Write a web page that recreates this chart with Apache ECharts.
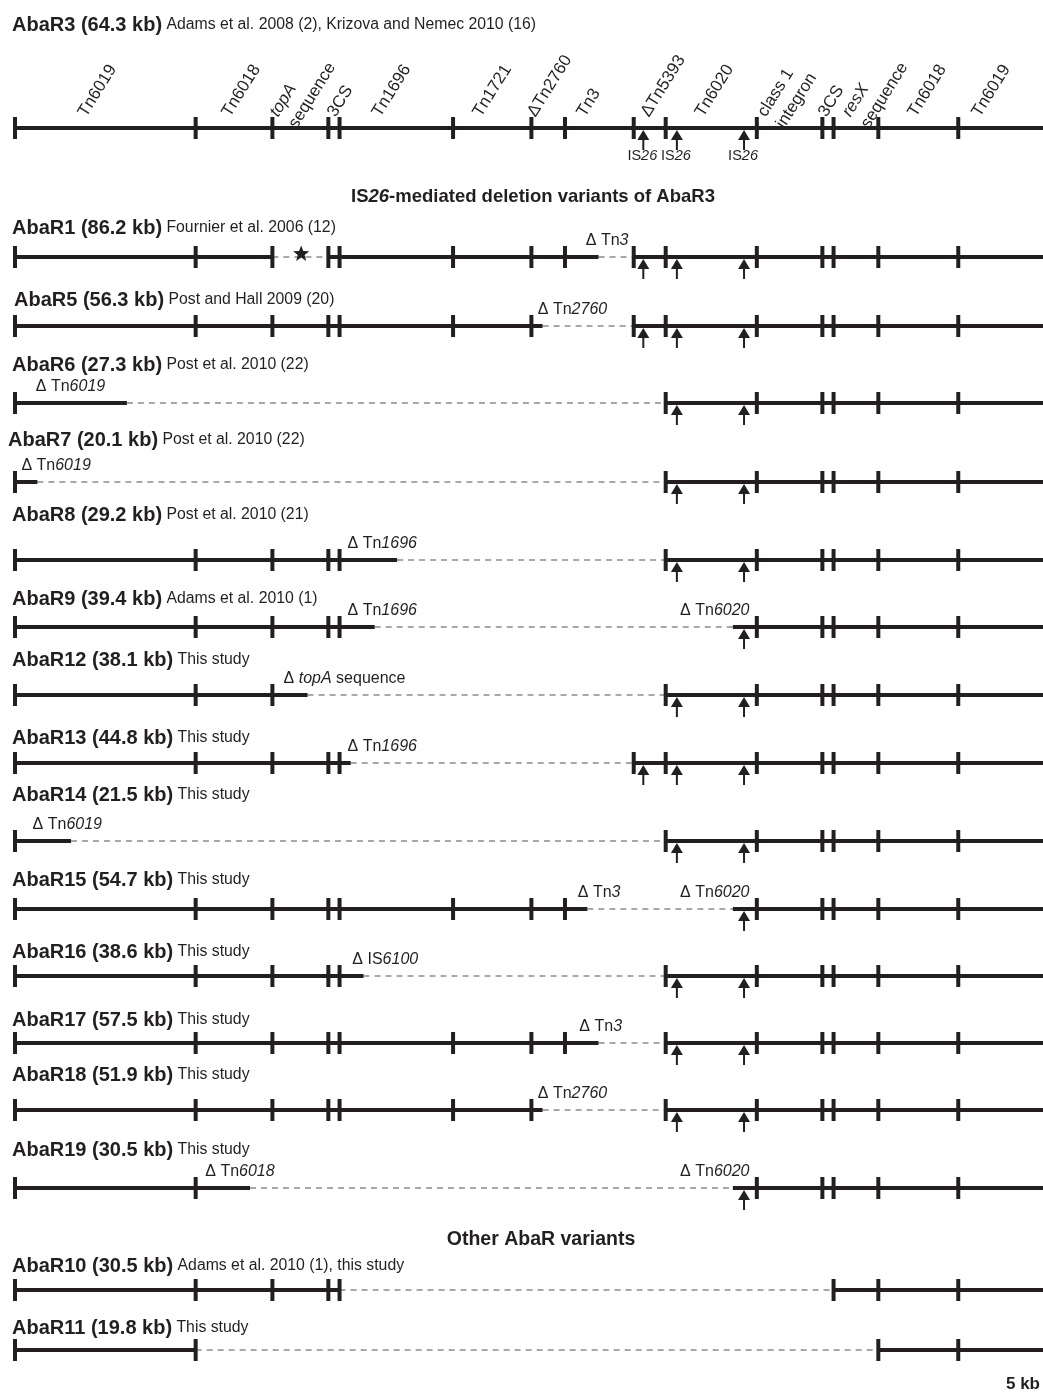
<!DOCTYPE html>
<html>
<head>
<meta charset="utf-8">
<title>AbaR3 and deletion variants</title>
<script src="https://cdn.jsdelivr.net/npm/echarts@6/dist/echarts.min.js"></script>
<style>
  html, body { margin: 0; padding: 0; background: #fff; }
  #chart { width: 1043px; height: 1392px; }
</style>
</head>
<body>
<div id="chart"></div>
<script>
// ---- data: all positions in kb along AbaR3 ----
var abar3Length = 64.3;
var boundaries = [0, 11.3, 16.1, 19.6, 20.3, 27.4, 32.3, 34.4, 38.7, 40.7, 46.4, 50.5, 51.2, 54.0, 59.0];
var is26Sites = [39.3, 41.4, 45.6];
var elementNames = ['{n|Tn6019}', '{n|Tn6018}', '{i|topA}\n{n|sequence}', '{n|3CS}', '{n|Tn1696}', '{n|Tn1721}',
  '{n|ΔTn2760}', '{n|Tn3}', '{n|ΔTn5393}', '{n|Tn6020}', '{n|class 1}\n{n|integron}', '{n|3CS}',
  '{i|resX}\n{n|sequence}', '{n|Tn6018}', '{n|Tn6019}'];
var elementLabelAt = [4.1, 13.1, 16.1, 19.7, 22.5, 28.8, 32.2, 35.3, 39.3, 42.7, 46.6, 50.4, 51.9, 56.0, 60.0];

var variantNames = ['AbaR3', 'AbaR1', 'AbaR5', 'AbaR6', 'AbaR7', 'AbaR8', 'AbaR9', 'AbaR12', 'AbaR13',
  'AbaR14', 'AbaR15', 'AbaR16', 'AbaR17', 'AbaR18', 'AbaR19', 'AbaR10', 'AbaR11'];
var variantSizes = [64.3, 86.2, 56.3, 27.3, 20.1, 29.2, 39.4, 38.1, 44.8, 21.5, 54.7, 38.6, 57.5, 51.9, 30.5, 30.5, 19.8];
var variantRefs = ['Adams et al. 2008 (2), Krizova and Nemec 2010 (16)', 'Fournier et al. 2006 (12)',
  'Post and Hall 2009 (20)', 'Post et al. 2010 (22)', 'Post et al. 2010 (22)', 'Post et al. 2010 (21)',
  'Adams et al. 2010 (1)', 'This study', 'This study', 'This study', 'This study', 'This study',
  'This study', 'This study', 'This study', 'Adams et al. 2010 (1), this study', 'This study'];
// stretches of AbaR3 missing in each variant (drawn dashed)
var deletedSpans = [
  [],
  [[16.1, 19.6], [36.5, 38.7]],
  [[33.0, 38.7]],
  [[7.0, 40.7]],
  [[1.4, 40.7]],
  [[23.9, 40.7]],
  [[22.5, 44.9]],
  [[18.3, 40.7]],
  [[21.0, 38.7]],
  [[3.5, 40.7]],
  [[35.8, 44.9]],
  [[21.8, 40.7]],
  [[36.5, 40.7]],
  [[33.0, 40.7]],
  [[14.7, 44.9]],
  [[20.3, 51.2]],
  [[11.3, 54.0]]
];
var deletionLabels = [
  [],
  [['{n|Δ Tn}{i|3}', 35.7]],
  [['{n|Δ Tn}{i|2760}', 32.7]],
  [['{n|Δ Tn}{i|6019}', 1.3]],
  [['{n|Δ Tn}{i|6019}', 0.4]],
  [['{n|Δ Tn}{i|1696}', 20.8]],
  [['{n|Δ Tn}{i|1696}', 20.8], ['{n|Δ Tn}{i|6020}', 41.6]],
  [['{n|Δ }{i|topA}{n| sequence}', 16.8]],
  [['{n|Δ Tn}{i|1696}', 20.8]],
  [['{n|Δ Tn}{i|6019}', 1.1]],
  [['{n|Δ Tn}{i|3}', 35.2], ['{n|Δ Tn}{i|6020}', 41.6]],
  [['{n|Δ IS}{i|6100}', 21.1]],
  [['{n|Δ Tn}{i|3}', 35.3]],
  [['{n|Δ Tn}{i|2760}', 32.7]],
  [['{n|Δ Tn}{i|6018}', 11.9], ['{n|Δ Tn}{i|6020}', 41.6]],
  [],
  []
];
var insertionMarks = [[], [17.9], [], [], [], [], [], [], [], [], [], [], [], [], [], [], []];

// ---- layout (pixels) ----
var rowLineY = [128, 257, 326, 403, 482, 560, 627, 695, 763, 841, 909, 976, 1043, 1110, 1188, 1290, 1350];
var rowTitleY = [25, 228, 300, 365, 440, 515, 599, 660, 738, 795, 880, 952, 1020, 1075, 1150, 1266, 1328];
var rowTitleX = [12, 12, 14, 12, 8, 12, 12, 12, 12, 12, 12, 12, 12, 12, 12, 12, 12];

var ink = '#231f20';
var dashInk = '#8c8c8c';
var ff = '"Liberation Sans", Arial, sans-serif';
var labelAngle = 58 * Math.PI / 180;

function rich(size, weight, lh) {
  return {
    n: { fontSize: size, fontFamily: ff, fontWeight: weight, fill: ink, lineHeight: lh },
    i: { fontSize: size, fontFamily: ff, fontWeight: weight, fontStyle: 'italic', fill: ink, lineHeight: lh }
  };
}

function keptSpans(del) {
  var spans = [], start = 0;
  del.forEach(function (d) {
    if (d[0] > start) spans.push([start, d[0]]);
    start = Math.max(start, d[1]);
  });
  if (start < abar3Length) spans.push([start, abar3Length]);
  return spans;
}
function isDeleted(kb, del) {
  return del.some(function (d) { return kb > d[0] + 0.05 && kb < d[1] - 0.05; });
}

function renderRow(params, api) {
  var r = params.dataIndex;
  var del = deletedSpans[r];
  var y = api.coord([0, rowLineY[r]])[1];
  var px = function (kb) { return api.coord([kb, rowLineY[r]])[0]; };
  var children = [];

  del.forEach(function (d) {
    children.push({ type: 'line', shape: { x1: px(d[0]), y1: y, x2: px(d[1]), y2: y },
      style: { stroke: dashInk, lineWidth: 1.6, lineDash: [6, 5] } });
  });
  keptSpans(del).forEach(function (s) {
    children.push({ type: 'line', shape: { x1: px(s[0]), y1: y, x2: px(s[1]), y2: y },
      style: { stroke: ink, lineWidth: 4 } });
  });
  boundaries.forEach(function (b) {
    if (isDeleted(b, del)) return;
    children.push({ type: 'line', shape: { x1: px(b), y1: y - 11, x2: px(b), y2: y + 11 },
      style: { stroke: ink, lineWidth: 4 } });
  });
  is26Sites.forEach(function (s) {
    if (isDeleted(s, del)) return;
    var x = px(s);
    children.push({ type: 'line', shape: { x1: x, y1: y + 10, x2: x, y2: y + 22 },
      style: { stroke: ink, lineWidth: 2 } });
    children.push({ type: 'polygon', shape: { points: [[x, y + 2], [x - 6, y + 12], [x + 6, y + 12]] },
      style: { fill: ink } });
    if (r === 0) {
      children.push({ type: 'text', x: x - 1, y: y + 28,
        style: { text: '{n|IS}{i|26}', align: 'center', verticalAlign: 'middle', rich: rich(14.5, 'normal', 18) } });
    }
  });
  insertionMarks[r].forEach(function (m) {
    var cx = px(m), cy = y - 3, pts = [];
    for (var k = 0; k < 10; k++) {
      var rad = k % 2 === 0 ? 8.5 : 3.6;
      var a = -Math.PI / 2 + k * Math.PI / 5;
      pts.push([cx + rad * Math.cos(a), cy + rad * Math.sin(a)]);
    }
    children.push({ type: 'polygon', shape: { points: pts }, style: { fill: ink } });
  });
  deletionLabels[r].forEach(function (l) {
    children.push({ type: 'text', x: px(l[1]), y: y - 7,
      style: { text: l[0], align: 'left', verticalAlign: 'bottom', rich: rich(16, 'normal', 18) } });
  });
  if (r === 0) {
    elementNames.forEach(function (name, k) {
      children.push({ type: 'text', x: px(elementLabelAt[k]) + 11, y: y - 7, rotation: labelAngle,
        style: { text: name, x: 0, y: -22, align: 'left', verticalAlign: 'top', rich: rich(17, 'normal', 22) } });
    });
  }
  children.push({ type: 'text', x: rowTitleX[r], y: rowTitleY[r],
    style: {
      text: '{b|' + variantNames[r] + ' (' + variantSizes[r].toFixed(1) + ' kb)}{n| ' + variantRefs[r] + '}',
      align: 'left', verticalAlign: 'middle',
      rich: {
        b: { fontSize: 20, fontFamily: ff, fontWeight: 'bold', fill: ink },
        n: { fontSize: 15.8, fontFamily: ff, fill: ink }
      }
    } });
  return { type: 'group', children: children };
}

var chart = echarts.init(document.getElementById('chart'));
chart.setOption({
  animation: false,
  backgroundColor: '#fff',
  grid: { left: 15, right: 0, top: 0, bottom: 0 },
  xAxis: { type: 'value', min: 0, max: abar3Length, show: false },
  yAxis: { type: 'value', min: 0, max: 1392, inverse: true, show: false },
  graphic: [
    { type: 'text', x: 533, y: 197, style: {
      text: '{n|IS}{i|26}{n|-mediated deletion variants of AbaR3}', align: 'center', verticalAlign: 'middle',
      rich: rich(18.5, 'bold', 22) } },
    { type: 'text', x: 541, y: 1240, style: {
      text: '{n|Other AbaR variants}', align: 'center', verticalAlign: 'middle', rich: rich(19.5, 'bold', 22) } },
    { type: 'text', x: 1040, y: 1384, style: {
      text: '{n|5 kb}', align: 'right', verticalAlign: 'middle', rich: rich(17, 'bold', 20) } }
  ],
  series: [{
    type: 'custom',
    clip: false,
    renderItem: renderRow,
    data: variantNames.map(function (n, i) { return [i]; })
  }]
});
</script>
</body>
</html>
